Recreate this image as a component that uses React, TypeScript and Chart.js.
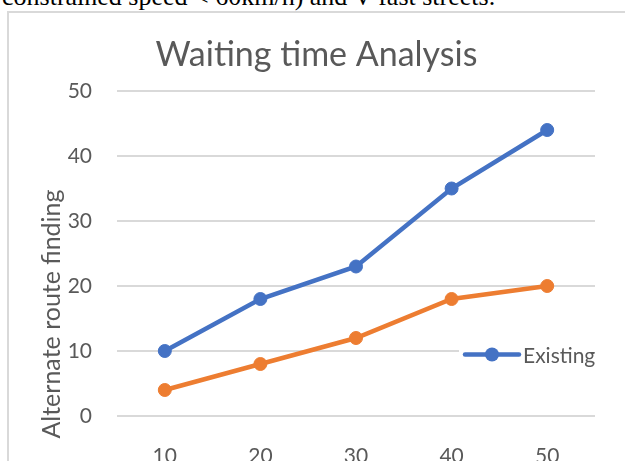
import React, { useEffect, useRef } from "react";
import { Chart, registerables } from "chart.js";

Chart.register(...registerables);

const categories = ["10", "20", "30", "40", "50"];
const existingValues = [10, 18, 23, 35, 44];
const proposedValues = [4, 8, 12, 18, 20];
const yMin = 0;
const yMax = 50;
const yStep = 10;
const chartTitle = "Waiting time Analysis";
const yAxisTitle = "Alternate route finding";
const existingLabel = "Existing";
const proposedLabel = "Proposed";
const captionText = "constrained speed < 60km/h) and V fast streets.";

const BLUE = "#4472C4";
const ORANGE = "#ED7D31";
const TEXT = "#595959";
const GRID = "#d9d9d9";
const FONT = "Lato, 'Open Sans', sans-serif";

const decorPlugin = {
  id: "decor",
  beforeDatasetsDraw(chart: any) {
    const { ctx, chartArea } = chart;
    ctx.save();
    const lx = chartArea.right - 132;
    const ly = chartArea.bottom - 61.5;
    ctx.fillStyle = "#ffffff";
    ctx.fillRect(lx - 4, ly - 14, 140, 28);
    ctx.restore();
  },
  afterDraw(chart: any) {
    const { ctx, chartArea } = chart;
    ctx.save();
    // Title
    ctx.fillStyle = TEXT;
    ctx.font = `34px ${FONT}`;
    ctx.textAlign = "center";
    ctx.textBaseline = "alphabetic";
    ctx.fillText(chartTitle, chart.width / 2, 66);

    // Y axis title
    ctx.save();
    ctx.translate(59.5, 314);
    ctx.rotate(-Math.PI / 2);
    ctx.font = `25px ${FONT}`;
    ctx.textAlign = "center";
    ctx.fillText(yAxisTitle, 0, 0);
    ctx.restore();

    // Legend entry
    const lx = chartArea.right - 130;
    const ly = chartArea.bottom - 61.5;
    ctx.strokeStyle = BLUE;
    ctx.lineWidth = 4.5;
    ctx.lineCap = "round";
    ctx.beginPath();
    ctx.moveTo(lx, ly);
    ctx.lineTo(lx + 54, ly);
    ctx.stroke();
    ctx.fillStyle = BLUE;
    ctx.beginPath();
    ctx.arc(lx + 27, ly, 7, 0, Math.PI * 2);
    ctx.fill();
    ctx.fillStyle = TEXT;
    ctx.font = `21px ${FONT}`;
    ctx.textAlign = "left";
    ctx.textBaseline = "alphabetic";
    ctx.fillText(existingLabel, lx + 58, ly + 8);
    ctx.restore();
  },
};

export default function App() {
  const canvasRef = useRef<HTMLCanvasElement | null>(null);

  useEffect(() => {
    const canvas = canvasRef.current;
    if (!canvas) return;
    const chart = new Chart(canvas, {
      type: "line",
      data: {
        labels: categories,
        datasets: [
          {
            label: existingLabel,
            data: existingValues,
            borderColor: BLUE,
            backgroundColor: BLUE,
            pointBackgroundColor: BLUE,
            pointBorderColor: BLUE,
            borderWidth: 4.5,
            pointRadius: 6.5,
            pointBorderWidth: 1,
            tension: 0,
          },
          {
            label: proposedLabel,
            data: proposedValues,
            borderColor: ORANGE,
            backgroundColor: ORANGE,
            pointBackgroundColor: ORANGE,
            pointBorderColor: ORANGE,
            borderWidth: 4.5,
            pointRadius: 6.5,
            pointBorderWidth: 1,
            tension: 0,
          },
        ],
      },
      options: {
        responsive: false,
        maintainAspectRatio: false,
        devicePixelRatio: 1,
        animation: false,
        events: [],
        layout: { padding: { left: 0, right: 38, top: 91, bottom: 0 } },
        plugins: {
          legend: { display: false },
          title: { display: false },
          tooltip: { enabled: false },
        },
        scales: {
          x: {
            type: "category",
            offset: true,
            grid: { display: false, drawTicks: false },
            border: { display: false },
            ticks: {
              color: TEXT,
              font: { family: FONT, size: 21 },
              padding: 28,
              maxRotation: 0,
            },
            afterFit: (scale: any) => {
              scale.height = 64;
            },
          },
          y: {
            min: yMin,
            max: yMax,
            grid: { color: GRID, lineWidth: 2, drawTicks: false },
            border: { display: false },
            ticks: {
              stepSize: yStep,
              color: TEXT,
              font: { family: FONT, size: 21 },
              padding: 25,
            },
            afterFit: (scale: any) => {
              scale.width = 117;
            },
          },
        },
      },
      plugins: [decorPlugin],
    });
    return () => chart.destroy();
  }, []);

  return (
    <div
      style={{
        position: "fixed",
        left: 0,
        top: 0,
        width: 625,
        height: 461,
        overflow: "hidden",
        background: "#ffffff",
      }}
    >
      <div
        style={{
          position: "absolute",
          left: 2,
          top: -16.3,
          fontFamily: "'Liberation Serif', 'Times New Roman', serif",
          fontSize: 26,
          lineHeight: "26px",
          whiteSpace: "nowrap",
          color: "#000000",
        }}
      >
        {captionText}
      </div>
      <div
        style={{
          position: "absolute",
          left: 7,
          top: 11,
          width: 700,
          height: 600,
          borderLeft: `2px solid ${GRID}`,
          borderTop: `2px solid ${GRID}`,
          boxSizing: "border-box",
        }}
      />
      <canvas
        ref={canvasRef}
        width={633}
        height={480}
        style={{ position: "absolute", left: 0, top: 0, width: 633, height: 480 }}
      />
    </div>
  );
}
